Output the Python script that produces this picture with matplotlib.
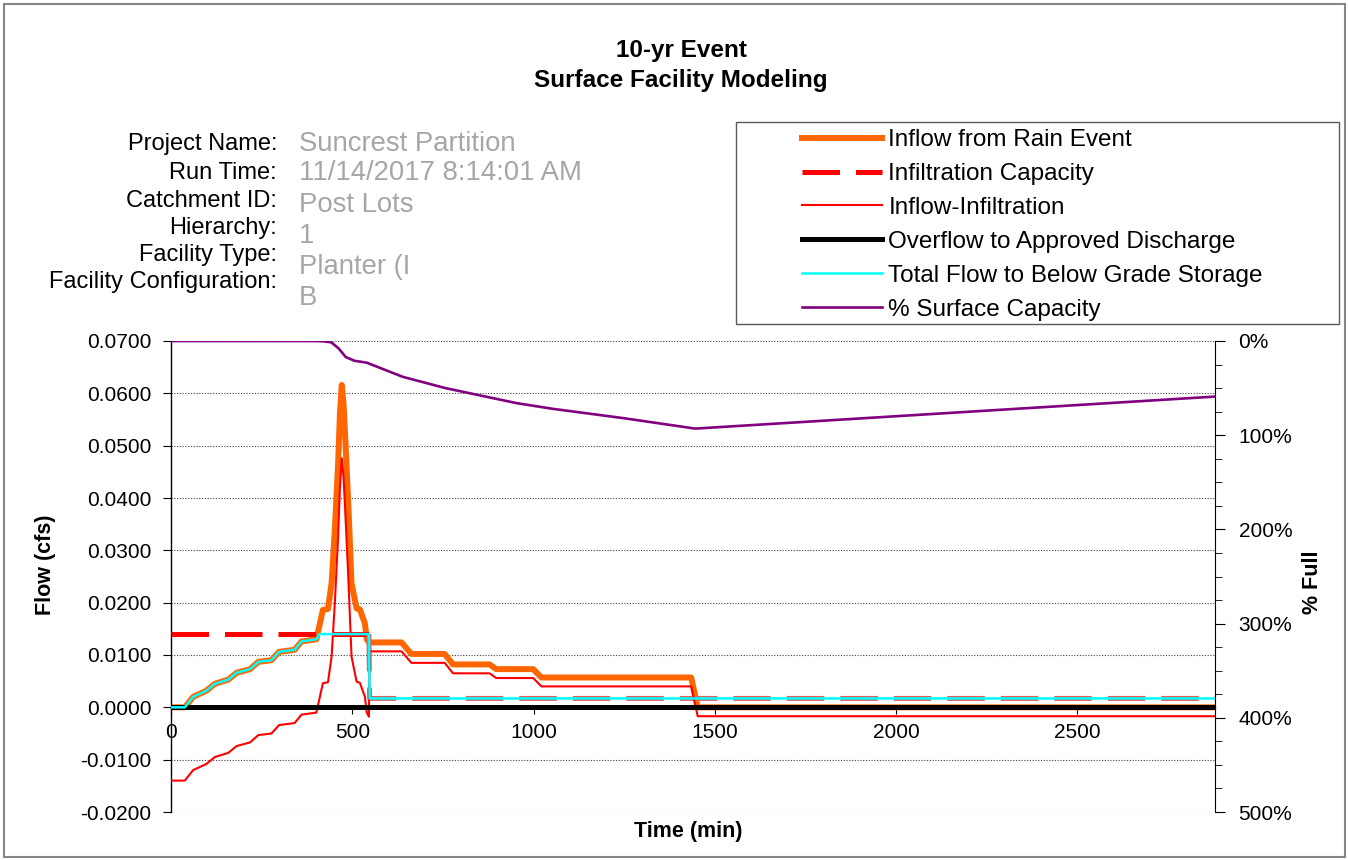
import matplotlib
matplotlib.use("Agg")
import matplotlib.pyplot as plt
from matplotlib.patches import Rectangle
from matplotlib.ticker import MultipleLocator, FuncFormatter

plt.rcParams['font.family'] = ['Liberation Sans', 'DejaVu Sans']

# -----------------------------------------
# DATA
# -----------------------------------------
time_min = [0, 38, 61, 98, 121, 158, 181, 218, 241, 277,
            298, 341, 360, 401, 410, 419, 433, 443, 452, 461,
            466, 471, 476, 481, 489, 498, 512, 521, 535, 540,
            546, 548, 636, 663, 755, 778, 879, 897, 999, 1022,
            1435, 1453, 2880]

inflow = [0.0, 0.0, 0.0020, 0.0032, 0.0045, 0.0053, 0.0066, 0.0073, 0.0087, 0.0090,
          0.0106, 0.0110, 0.0126, 0.0130, 0.0158, 0.0186, 0.0188, 0.0237, 0.0340, 0.0466,
          0.0560, 0.0616, 0.0580, 0.0510, 0.0390, 0.0237, 0.0189, 0.0187, 0.0160, 0.0130,
          0.0124, 0.0124, 0.0124, 0.0102, 0.0102, 0.0082, 0.0082, 0.0073, 0.0073, 0.0057,
          0.0057, 0.0, 0.0]

inflow_minus_infil = [-0.0140, -0.0140, -0.0120, -0.0108, -0.0095, -0.0087, -0.0074, -0.0067, -0.0053, -0.0050,
                      -0.0034, -0.0030, -0.0014, -0.0010, 0.0018, 0.0046, 0.0048, 0.0097, 0.0200, 0.0326,
                      0.0420, 0.0476, 0.0440, 0.0370, 0.0250, 0.0097, 0.0049, 0.0047, 0.0020, -0.0010,
                      -0.0018, 0.0107, 0.0107, 0.0085, 0.0085, 0.0065, 0.0065, 0.0056, 0.0056, 0.0040,
                      0.0040, -0.0017, -0.0017]

cap_time = [0, 546, 548, 2880]
infil_capacity = [0.0140, 0.0140, 0.0017, 0.0017]

overflow_time = [0, 2880]
overflow = [0.0, 0.0]

below_time = [0, 38, 61, 98, 121, 158, 181, 218, 241, 277,
              298, 341, 360, 401, 410, 546, 548, 2880]
below_grade = [0.0, 0.0, 0.0020, 0.0032, 0.0045, 0.0053, 0.0066, 0.0073, 0.0087, 0.0090,
               0.0106, 0.0110, 0.0126, 0.0130, 0.0140, 0.0140, 0.0017, 0.0017]

pct_time = [0, 400, 420, 442, 462, 482, 506, 540, 639, 757, 954, 1053, 1250, 1446, 2880]
pct_surface = [0, 0, 0.3, 1.4, 7.7, 17, 21, 23, 38, 50, 66, 72, 82, 93, 59]

info_labels = ["Project Name:", "Run Time:", "Catchment ID:", "Hierarchy:",
               "Facility Type:", "Facility Configuration:"]
info_values = ["Suncrest Partition", "11/14/2017 8:14:01 AM", "Post Lots", "1",
               "Planter (I", "B"]

# -----------------------------------------
# LAYOUT
# -----------------------------------------
W, H = 1348, 860


def fx(px):
    return px / W


def fy(py):
    return 1 - py / H


fig = plt.figure(figsize=(W / 100, H / 100), dpi=100)

# outer chart frame
fig.patches.append(Rectangle((fx(4), fy(857)), fx(1345) - fx(4), fy(4) - fy(857),
                             transform=fig.transFigure, fill=False,
                             edgecolor='#868686', linewidth=1.5))

ax = fig.add_axes([fx(171), fy(812), fx(1215) - fx(171), fy(341) - fy(812)])

ax.plot(time_min, inflow, color='#FF6600', lw=4.3, label='Inflow from Rain Event', zorder=2)
# capacity: full red before the drop, lighter where it sits under the cyan line
ax.plot(cap_time[:2], infil_capacity[:2], color='#FF0000', lw=3.6, dashes=(7.5, 3.2),
        label='Infiltration Capacity', zorder=3)
ax.plot(cap_time[1:], infil_capacity[1:], color='#E06060', lw=3.6, dashes=(7.5, 3.2), zorder=3)
ax.plot(time_min, inflow_minus_infil, color='#FF0000', lw=1.5, label='Inflow-Infiltration', zorder=4)
ax.plot(overflow_time, overflow, color='black', lw=3.6, label='Overflow to Approved Discharge', zorder=5)
ax.plot(below_time, below_grade, color='#00FFFF', lw=1.8, label='Total Flow to Below Grade Storage', zorder=6)

ax.set_xlim(0, 2880)
ax.set_ylim(-0.02, 0.07)
ax.xaxis.set_major_locator(MultipleLocator(500))
ax.yaxis.set_major_locator(MultipleLocator(0.01))
ax.yaxis.set_major_formatter(FuncFormatter(lambda v, p: f'{round(v, 4) + 0.0:.4f}'))
ax.xaxis.set_major_formatter(FuncFormatter(lambda v, p: f'{int(round(v))}'))
ax.grid(axis='y', color='#404040', linestyle=(0, (1, 1.5)), linewidth=0.8)
ax.set_axisbelow(True)

ax.spines['top'].set_visible(False)
ax.spines['right'].set_visible(False)
ax.spines['bottom'].set_position(('data', 0))
ax.spines['bottom'].set_linewidth(1.0)
ax.spines['left'].set_linewidth(1.0)
ax.tick_params(axis='y', direction='out', length=6, labelsize=15, pad=8)
ax.tick_params(axis='x', direction='out', length=5, labelsize=15, pad=6)

ax2 = ax.twinx()
ax2.plot(pct_time, pct_surface, color='#800080', lw=1.9, label='% Surface Capacity')
ax2.set_ylim(500, 0)
ax2.yaxis.set_major_locator(MultipleLocator(100))
ax2.yaxis.set_minor_locator(MultipleLocator(25))
ax2.yaxis.set_major_formatter(FuncFormatter(lambda v, p: f'{int(round(v))}%'))
for s in ['top', 'bottom', 'left']:
    ax2.spines[s].set_visible(False)
ax2.tick_params(axis='y', which='major', direction='out', length=7, labelsize=15, pad=10)
ax2.tick_params(axis='y', which='minor', direction='out', length=5)

# -----------------------------------------
# TEXT
# -----------------------------------------
fig.text(fx(681), fy(50), '10-yr Event', ha='center', va='center', fontsize=17.5, fontweight='bold')
fig.text(fx(681), fy(80), 'Surface Facility Modeling', ha='center', va='center',
         fontsize=17.5, fontweight='bold')

fig.text(fx(45), fy(565), 'Flow (cfs)', rotation=90, ha='center', va='center',
         fontsize=15.5, fontweight='bold')
fig.text(fx(1312), fy(582), '% Full', rotation=90, ha='center', va='center',
         fontsize=15.5, fontweight='bold')
fig.text(fx(688), fy(831), 'Time (min)', ha='center', va='center', fontsize=15.5, fontweight='bold')

label_y = [144, 173, 201, 228, 255, 282]
value_y = [144, 173, 205, 236, 267, 298]
for lab, ly in zip(info_labels, label_y):
    fig.text(fx(277), fy(ly), lab, ha='right', va='center', fontsize=17)
for val, vy in zip(info_values, value_y):
    fig.text(fx(299), fy(vy), val, ha='left', va='center', fontsize=19.8, color='#A6A6A6')

# -----------------------------------------
# LEGEND
# -----------------------------------------
fig.patches.append(Rectangle((fx(736), fy(324)), fx(1339) - fx(736), fy(122) - fy(324),
                             transform=fig.transFigure, fill=False,
                             edgecolor='#595959', linewidth=1.0))
h1, l1 = ax.get_legend_handles_labels()
h2, l2 = ax2.get_legend_handles_labels()
fig.legend(h1 + h2, l1 + l2, loc='upper left', bbox_to_anchor=(fx(796), fy(123)),
           frameon=False, fontsize=17.5, handlelength=3.3, handletextpad=0.25,
           labelspacing=0.49, borderaxespad=0, borderpad=0.25)

fig.savefig('out.png', dpi=100)
